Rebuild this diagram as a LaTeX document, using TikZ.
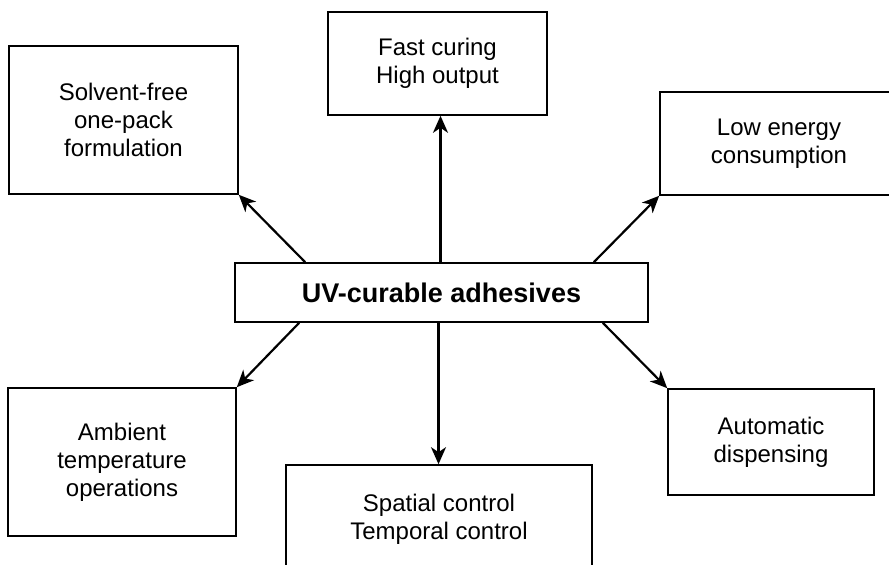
\documentclass[tikz,border=0pt]{standalone}
\usepackage{fontspec}
\setmainfont{Liberation Sans}
\usetikzlibrary{arrows.meta,calc}
\begin{document}
\begin{tikzpicture}[x=0.5pt,y=-0.5pt,
  box/.style={draw,line width=0.8pt,inner sep=0pt,align=center,font=\fontsize{12}{14}\selectfont},
  arr/.style={line width=1.1pt,-{Stealth[length=8.5pt,width=7.5pt,inset=2.5pt]}}]
\useasboundingbox (0,0) rectangle (889,565);
\clip (0,0) rectangle (889,565);
\node[box,minimum width=114.5pt,minimum height=74pt] (solv) at (123.5,120) {Solvent-free\\one-pack\\formulation};
\node[box,minimum width=109.5pt,minimum height=51.5pt] (fast) at (437.5,63.5) {Fast curing\\High output};
\node[box,minimum width=119pt,minimum height=51.5pt] (low) at (779,143.5) {Low energy\\consumption};
\node[box,minimum width=206.5pt,minimum height=29.5pt,font=\fontsize{13.5}{15}\selectfont\bfseries] (c) at (441.5,292.5) {UV-curable adhesives};
\node[box,minimum width=114pt,minimum height=74pt] (amb) at (122,462) {Ambient\\temperature\\operations};
\node[box,minimum width=153pt,minimum height=54pt] (spat) at (439,519) {Spatial control\\Temporal control};
\node[box,minimum width=103pt,minimum height=53pt] (auto) at (771,442) {Automatic\\dispensing};
\draw[arr] ([xshift=35.5pt]c.north west) -- (solv.south east);
\draw[arr] ([xshift=-0.5pt]c.north) -- ([xshift=-0.5pt]c.north |- fast.south);
\draw[arr] ([xshift=-27.5pt]c.north east) -- (low.south west);
\draw[arr] ([xshift=32.5pt]c.south west) -- (amb.north east);
\draw[arr] ([xshift=-1.5pt]c.south) -- ([xshift=-1.5pt]c.south |- spat.north);
\draw[arr] ([xshift=-23pt]c.south east) -- (auto.north west);
\end{tikzpicture}
\end{document}
